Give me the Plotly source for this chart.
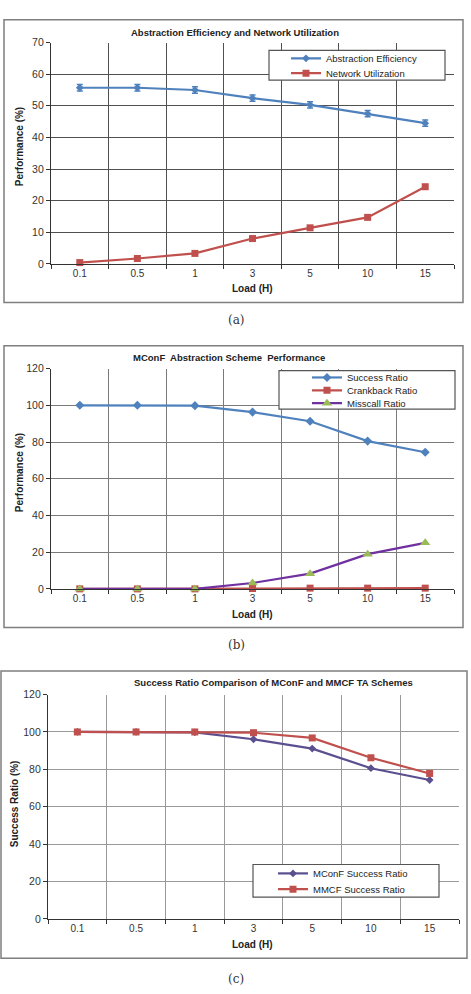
import plotly.graph_objects as go

W, H = 471, 994

loads = ["0.1", "0.5", "1", "3", "5", "10", "15"]

# (a)
abstraction_eff = [55.7, 55.7, 55.0, 52.4, 50.3, 47.5, 44.5]
abstraction_err = [1.0, 1.0, 1.0, 1.0, 1.0, 1.0, 1.0]
network_util = [0.4, 1.7, 3.3, 8.0, 11.4, 14.7, 24.4]

# (b)
success_ratio = [100.0, 100.0, 99.8, 96.3, 91.3, 80.5, 74.4]
crankback_ratio = [0.0, 0.0, 0.0, 0.2, 0.4, 0.4, 0.4]
misscall_ratio = [0.0, 0.0, 0.0, 3.2, 8.3, 18.9, 25.1]

# (c)
mconf_success = [100.0, 100.0, 99.8, 96.1, 91.1, 80.6, 74.3]
mmcf_success = [100.0, 100.0, 100.0, 99.6, 96.8, 86.2, 77.8]

BLUE = "#4F81BD"
RED = "#C0504D"
PURPLE = "#7030A0"
GREEN = "#9BBB59"
SLATE = "#5B4F8F"

FONT = "Liberation Sans, Arial, sans-serif"


def px(x):
    return x / W


def py(y):
    return 1 - y / H


fig = go.Figure()

panels = {
    "a": dict(x0=51, x1=454, y0=37, y1=261, grid="#505050"),
    "b": dict(x0=51, x1=454, y0=367, y1=590, grid="#7a7a7a"),
    "c": dict(x0=48, x1=459, y0=697, y1=924, grid="#999999"),
}

axis_ids = {"a": ("x", "y"), "b": ("x2", "y2"), "c": ("x3", "y3")}

common = dict(mode="lines+markers", cliponaxis=False)

# traces (a)
fig.add_trace(go.Scatter(x=loads, y=abstraction_eff, name="Abstraction Efficiency",
                         line=dict(color=BLUE, width=2.2),
                         marker=dict(symbol="diamond", size=6, color=BLUE),
                         error_y=dict(type="data", array=abstraction_err, color=BLUE,
                                      thickness=1.5, width=3),
                         xaxis="x", yaxis="y", legend="legend", **common))
fig.add_trace(go.Scatter(x=loads, y=network_util, name="Network Utilization",
                         line=dict(color=RED, width=2.2),
                         marker=dict(symbol="square", size=7, color=RED),
                         xaxis="x", yaxis="y", legend="legend2", **common))
# traces (b)
fig.add_trace(go.Scatter(x=loads, y=success_ratio, name="Success Ratio",
                         line=dict(color=BLUE, width=2.2),
                         marker=dict(symbol="diamond", size=7, color=BLUE),
                         xaxis="x2", yaxis="y2", legend="legend3", **common))
fig.add_trace(go.Scatter(x=loads, y=crankback_ratio, name="Crankback Ratio",
                         line=dict(color=RED, width=2.2),
                         marker=dict(symbol="square", size=7, color=RED),
                         xaxis="x2", yaxis="y2", legend="legend4", **common))
fig.add_trace(go.Scatter(x=loads, y=misscall_ratio, name="Misscall Ratio",
                         line=dict(color=PURPLE, width=2.2),
                         marker=dict(symbol="triangle-up", size=9, color=GREEN),
                         xaxis="x2", yaxis="y2", legend="legend5", **common))
# traces (c)
fig.add_trace(go.Scatter(x=loads, y=mconf_success, name="MConF Success Ratio",
                         line=dict(color=SLATE, width=2.2),
                         marker=dict(symbol="diamond", size=6, color=SLATE),
                         xaxis="x3", yaxis="y3", legend="legend6", **common))
fig.add_trace(go.Scatter(x=loads, y=mmcf_success, name="MMCF Success Ratio",
                         line=dict(color=RED, width=2.2),
                         marker=dict(symbol="square", size=7, color=RED),
                         xaxis="x3", yaxis="y3", legend="legend7", **common))

layout = dict(
    width=W, height=H, margin=dict(l=0, r=0, t=0, b=0),
    paper_bgcolor="white", plot_bgcolor="white",
    font=dict(family=FONT, size=9, color="#222222"),
    showlegend=True,
)

yranges = {"a": (0, 70, 10), "b": (0, 120, 20), "c": (0, 120, 20)}
for k, p in panels.items():
    xa, ya = axis_ids[k]
    xkey = "xaxis" if xa == "x" else "xaxis" + xa[1:]
    ykey = "yaxis" if ya == "y" else "yaxis" + ya[1:]
    lo, hi, dt = yranges[k]
    layout[xkey] = dict(
        domain=[px(p["x0"]), px(p["x1"])], anchor=ya, type="category",
        categoryorder="array", categoryarray=loads, range=[-0.5, 6.5],
        tickson="boundaries", ticks="outside", ticklen=4, tickcolor="#333333",
        showgrid=True, gridcolor=p["grid"], gridwidth=1.2,
        showline=True, linecolor="#333333", linewidth=1.3,
        tickfont=dict(size=10, color="#333333"), zeroline=False, fixedrange=True,
    )
    layout[ykey] = dict(
        domain=[py(p["y1"]), py(p["y0"])], anchor=xa, range=[lo, hi], dtick=dt,
        ticks="outside", ticklen=4, tickcolor="#333333",
        showgrid=True, gridcolor=p["grid"], gridwidth=1.2,
        showline=True, linecolor="#333333", linewidth=1.3, zeroline=False,
        tickfont=dict(size=10.5, color="#333333"), fixedrange=True,
    )

legend_pos = {
    "legend": (286, 53), "legend2": (286, 68),
    "legend3": (307, 376), "legend4": (307, 389), "legend5": (307, 402),
    "legend6": (273, 878), "legend7": (273, 894),
}
for name, (lx, ly) in legend_pos.items():
    layout[name] = dict(x=px(lx), y=py(ly), xanchor="left", yanchor="middle",
                        bgcolor="rgba(0,0,0,0)", borderwidth=0,
                        font=dict(size=9.5, color="#222222"), itemwidth=30)

shapes = []
for (x0, y0, x1, y1) in [(4, 14, 463, 300), (4, 344, 463, 629), (1, 673, 467, 964)]:
    shapes.append(dict(type="rect", xref="paper", yref="paper",
                       x0=px(x0), x1=px(x1), y0=py(y1), y1=py(y0),
                       line=dict(color="#7f7f7f", width=1.5), layer="below"))
for (x0, y0, x1, y1) in [(269, 45, 445, 75), (279, 369, 455, 408), (253, 869, 439, 902)]:
    shapes.append(dict(type="rect", xref="paper", yref="paper",
                       x0=px(x0), x1=px(x1), y0=py(y1), y1=py(y0),
                       line=dict(color="#555555", width=1.2), fillcolor="white",
                       layer="above"))
layout["shapes"] = shapes

ann = []


def text(x, y, s, size=9, bold=False, angle=0, family=FONT, color="#222222"):
    ann.append(dict(x=px(x), y=py(y), xref="paper", yref="paper", showarrow=False,
                    text=f"<b>{s}</b>" if bold else s, textangle=angle,
                    xanchor="center", yanchor="middle",
                    font=dict(size=size, family=family, color=color)))


text(235, 27, "Abstraction Efficiency and Network Utilization", size=9.5, bold=True)
text(229, 356, "MConF  Abstraction Scheme  Performance", size=9.5, bold=True)
text(273, 685, "Success Ratio Comparison of MConF and MMCF TA Schemes", size=9.5, bold=True)
text(252, 286, "Load (H)", size=10, bold=True)
text(252, 616, "Load (H)", size=10, bold=True)
text(252, 950, "Load (H)", size=10, bold=True)
text(19, 143, "Performance (%)", size=10, bold=True, angle=-90)
text(19, 473, "Performance (%)", size=10, bold=True, angle=-90)
text(14, 808, "Success Ratio (%)", size=10, bold=True, angle=-90)
SERIF = "DejaVu Serif, Liberation Serif, serif"
text(236, 318, "(a)", size=12, family=SERIF, color="#333333")
text(236, 647, "(b)", size=12, family=SERIF, color="#333333")
text(236, 985, "(c)", size=12, family=SERIF, color="#333333")
layout["annotations"] = ann

fig.update_layout(**layout)
fig.write_html("out.html")
